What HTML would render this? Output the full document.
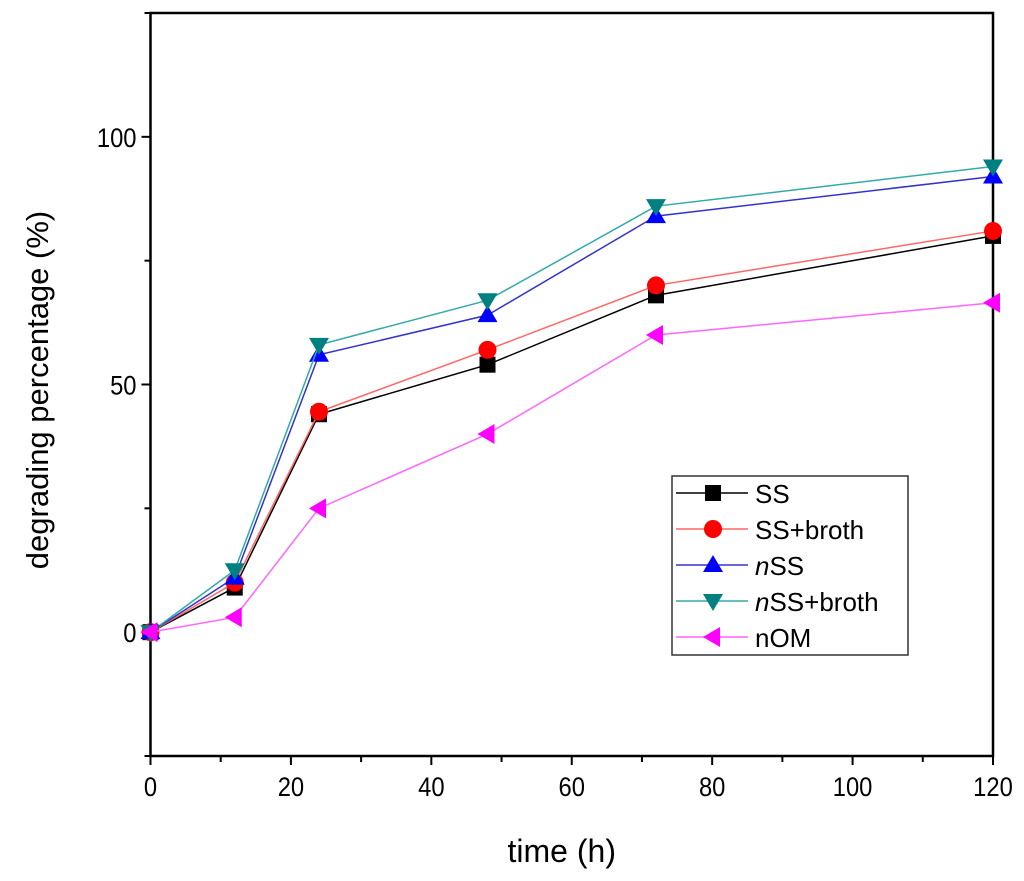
<!DOCTYPE html>
<html><head><meta charset="utf-8"><style>
body{margin:0;background:#fff;}
svg{display:block;font-family:"Liberation Sans",Arial,sans-serif;}
</style></head><body>
<svg id="chart" width="1024" height="881"></svg>
<script>
const xValues=[0,12,24,48,72,120];
const seriesNames=["SS","SS+broth","nSS","nSS+broth","nOM"];
const ssValues=[0,9,44,54,68,80];
const ssBrothValues=[0,10,44.5,57,70,81];
const nssValues=[0,11,56,64,84,92];
const nssBrothValues=[0,12.5,58,67,86,94];
const nomValues=[0,3,25,40,60,66.5];
const xTicks=[0,20,40,60,80,100,120];
const yTicks=[0,50,100];

const NS="http://www.w3.org/2000/svg";
const svg=document.getElementById('chart');
const L=150.5,R=993,T=13,B=756;
const xs=v=>L+(v-0)/(120-0)*(R-L);
const ys=v=>B-(v+25)/(150)*(B-T);
function mk(tag,attrs,parent){const e=document.createElementNS(NS,tag);for(const k in attrs)e.setAttribute(k,attrs[k]);(parent||svg).appendChild(e);return e;}

const frame=mk('rect',{x:L,y:T,width:R-L,height:B-T,fill:'none',stroke:'#000','stroke-width':2.5});



for(let v=0;v<=120;v+=10){
  const t=mk('line',{x1:xs(v),x2:xs(v),y1:B,y2:B+(v%20===0?9:6),stroke:'#000','stroke-width':2});
  
  
}
xTicks.forEach(v=>{
  const t=mk('text',{x:xs(v),y:B+40,'text-anchor':'middle','font-size':27,transform:`translate(${xs(v)*0.12},0) scale(0.88,1)`});
  t.setAttribute('x',xs(v));
  t.textContent=v;
  
  
});
for(let v=-25;v<=125;v+=25){
  const t=mk('line',{x1:L-(v%50===0?9:6),x2:L,y1:ys(v),y2:ys(v),stroke:'#000','stroke-width':2});
  
  
}
yTicks.forEach(v=>{
  const t=mk('text',{x:(L-14)/0.88,y:ys(v)+10,'text-anchor':'end','font-size':27,transform:'scale(0.88,1)'});
  t.textContent=v;
  
  
});
const xt=mk('text',{x:(L+R)/2-10,y:862,'text-anchor':'middle','font-size':32});
xt.textContent='time (h)';


const yt=mk('text',{x:0,y:0,'text-anchor':'middle','font-size':31,transform:'translate(48,390) rotate(-90)'});
yt.textContent='degrading percentage (%)';



const allSeries=[ssValues,ssBrothValues,nssValues,nssBrothValues,nomValues];
const colors=['#000000','#ff0000','#0000ff','#008080','#ff00ff'];
const lineColors=['#000000','#ff6666','#3333cc','#33aaaa','#ff66ff'];
const shapes=['square','circle','up','down','left'];
function marker(shape,x,y,color,g){
  const s=9;
  if(shape==='square')return mk('rect',{x:x-s+1,y:y-s+1,width:2*s-2,height:2*s-2,fill:color},g);
  if(shape==='circle')return mk('circle',{cx:x,cy:y,r:s,fill:color},g);
  if(shape==='up')return mk('polygon',{points:`${x},${y-s-1} ${x-s-1},${y+s-2} ${x+s+1},${y+s-2}`,fill:color},g);
  if(shape==='down')return mk('polygon',{points:`${x},${y+s+1} ${x-s-1},${y-s+2} ${x+s+1},${y-s+2}`,fill:color},g);
  return mk('polygon',{points:`${x-s-1},${y} ${x+s-2},${y-s-1} ${x+s-2},${y+s+1}`,fill:color},g);
}
allSeries.forEach((vals,i)=>{
  const g=mk('g',{});
  
  
  const pl=mk('polyline',{points:vals.map((v,j)=>xs(xValues[j])+','+ys(v)).join(' '),fill:'none',stroke:lineColors[i],'stroke-width':1.5},g);
  
  
  vals.forEach((v,j)=>{
    const m=marker(shapes[i],xs(xValues[j]),ys(v),colors[i],g);
    
    
  });
});

const lg=mk('g',{});


mk('rect',{x:672,y:476,width:236,height:179,fill:'#fff',stroke:'#333','stroke-width':1.5},lg);
seriesNames.forEach((n,i)=>{
  const y=493+i*36;
  const e=mk('g',{},lg);
  
  
  mk('line',{x1:676,x2:748,y1:y,y2:y,stroke:lineColors[i],'stroke-width':1.5},e);
  marker(shapes[i],713,y,colors[i],e);
  const t=mk('text',{x:755,y:y+10,'font-size':26},e);
  if(n.startsWith('n')&&n!=='nOM'){
    const it=mk('tspan',{'font-style':'italic'},t);it.textContent='n';
    const r=mk('tspan',{},t);r.textContent=n.slice(1);
  } else t.textContent=n;
});
</script>
</body></html>
